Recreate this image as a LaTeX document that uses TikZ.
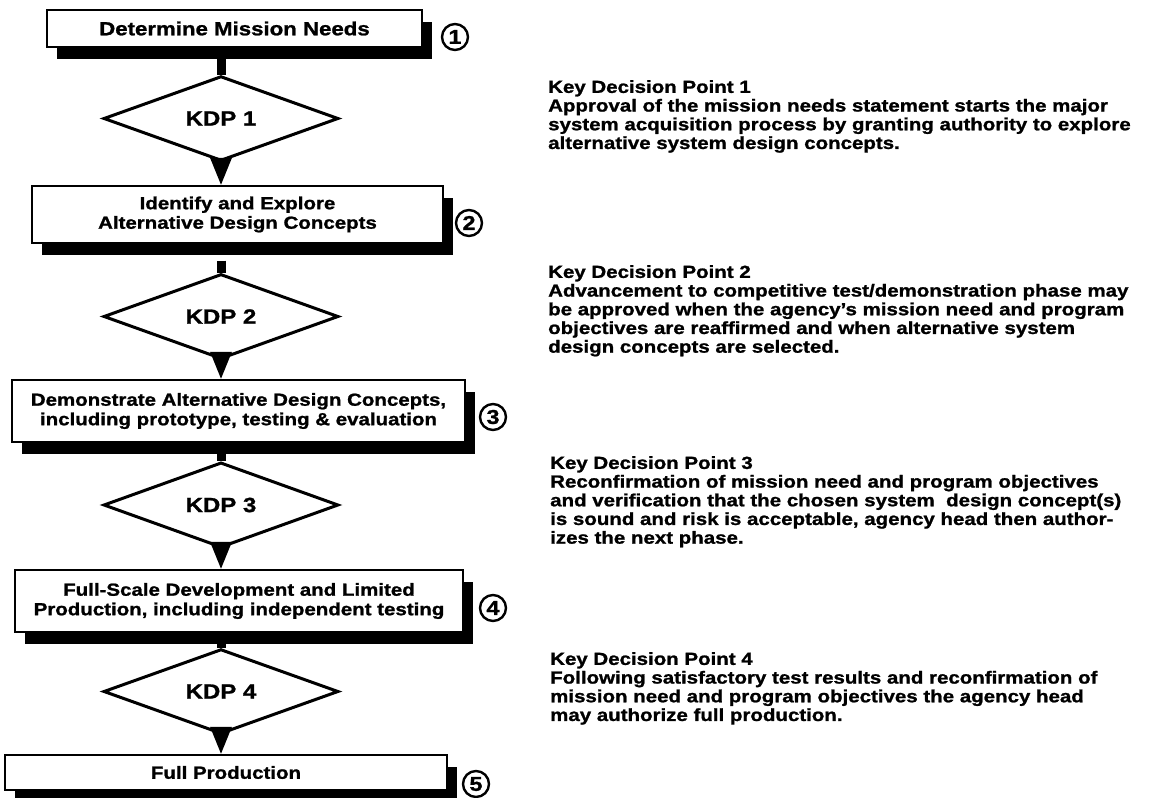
\documentclass[tikz,border=0pt]{standalone}
\usepackage{fontspec}
\setmainfont{Liberation Sans}
\newfontfamily\widesans{Liberation Sans}[FakeStretch=1.17, BoldFeatures={FakeBold=1.2}]
\usetikzlibrary{shapes.geometric,arrows.meta,shadows}
\tikzset{
  stepbox/.style={draw, line width=2.2bp, fill=white, inner sep=0pt, align=center,
    font=\widesans\bfseries\fontsize{17.5bp}{19.5bp}\selectfont,
    drop shadow={shadow xshift=10bp, shadow yshift=-12bp, fill=black, opacity=1}},
  kdp/.style={diamond, draw, line width=3bp, fill=white, inner sep=0pt,
    minimum width=235bp, minimum height=73bp,
    font=\widesans\bfseries\fontsize{20.5bp}{20.5bp}\selectfont},
  stub/.style={line width=9bp},
  flow/.style={line width=3bp, -{Triangle[width=21bp,length=27bp]}},
  num/.style={circle, draw, line width=2.4bp, fill=white, inner sep=0pt,
    minimum size=26bp, font=\widesans\bfseries\fontsize{20bp}{20bp}\selectfont},
  desc/.style={anchor=north west, inner sep=0pt, align=left,
    font=\widesans\bfseries\fontsize{17.5bp}{18.7bp}\selectfont}
}
\begin{document}
\begin{tikzpicture}[x=1bp, y=-1bp]
\useasboundingbox (0,0) rectangle (1158,798);

% process steps
\node[stepbox, minimum width=375bp, minimum height=37bp,
  font=\widesans\bfseries\fontsize{19bp}{19.5bp}\selectfont] (b1) at (234.5,28.5) {Determine Mission Needs};
\node[stepbox, minimum width=411bp, minimum height=57bp] (b2) at (237.5,214.5)
  {Identify and Explore\\Alternative Design Concepts};
\node[stepbox, minimum width=453bp, minimum height=62bp] (b3) at (238.5,411)
  {Demonstrate Alternative Design Concepts,\\including prototype, testing \& evaluation};
\node[stepbox, minimum width=448bp, minimum height=62bp] (b4) at (239,601)
  {Full-Scale Development and Limited\\Production, including independent testing};
\node[stepbox, minimum width=442bp, minimum height=35bp] (b5) at (226,772.5) {Full Production};

% step numbers
\node[num] (n1) at (455,37) {1};
\node[num] (n2) at (469,223) {2};
\node[num] (n3) at (493,417) {3};
\node[num] (n4) at (493,608) {4};
\node[num] (n5) at (476,784) {5};

% key decision points
\node[kdp] (d1) at (221,118.5) {KDP 1};
\node[kdp] (d2) at (221,316.5) {KDP 2};
\node[kdp] (d3) at (221,505) {KDP 3};
\node[kdp] (d4) at (221,691.5) {KDP 4};

% connectors
\draw[stub] (b1.south -| d1.north) -- (d1.north);
\draw[stub] ([yshift=12bp]d2.north) -- (d2.north);
\draw[stub] ([yshift=11bp]d3.north) -- (d3.north);
\draw[stub] ([yshift=10bp]d4.north) -- (d4.north);
\draw[flow] (d1.south) -- (d1.south |- b2.north);
\draw[flow] (d2.south) -- (d2.south |- b3.north);
\draw[flow] (d3.south) -- (d3.south |- b4.north);
\draw[flow] (d4.south) -- (d4.south |- b5.north);

% descriptions
\node[desc] (t1) at (548,80) {Key Decision Point 1\\
Approval of the mission needs statement starts the major\\
system acquisition process by granting authority to explore\\
alternative system design concepts.};
\node[desc] (t2) at (548,265) {Key Decision Point 2\\
Advancement to competitive test/demonstration phase may\\
be approved when the agency’s mission need and program\\
objectives are reaffirmed and when alternative system\\
design concepts are selected.};
\node[desc] (t3) at (550,456) {Key Decision Point 3\\
Reconfirmation of mission need and program objectives\\
and verification that the chosen system\ \ design concept(s)\\
is sound and risk is acceptable, agency head then author-\\
izes the next phase.};
\node[desc] (t4) at (550,652) {Key Decision Point 4\\
Following satisfactory test results and reconfirmation of\\
mission need and program objectives the agency head\\
may authorize full production.};
\end{tikzpicture}
\end{document}
